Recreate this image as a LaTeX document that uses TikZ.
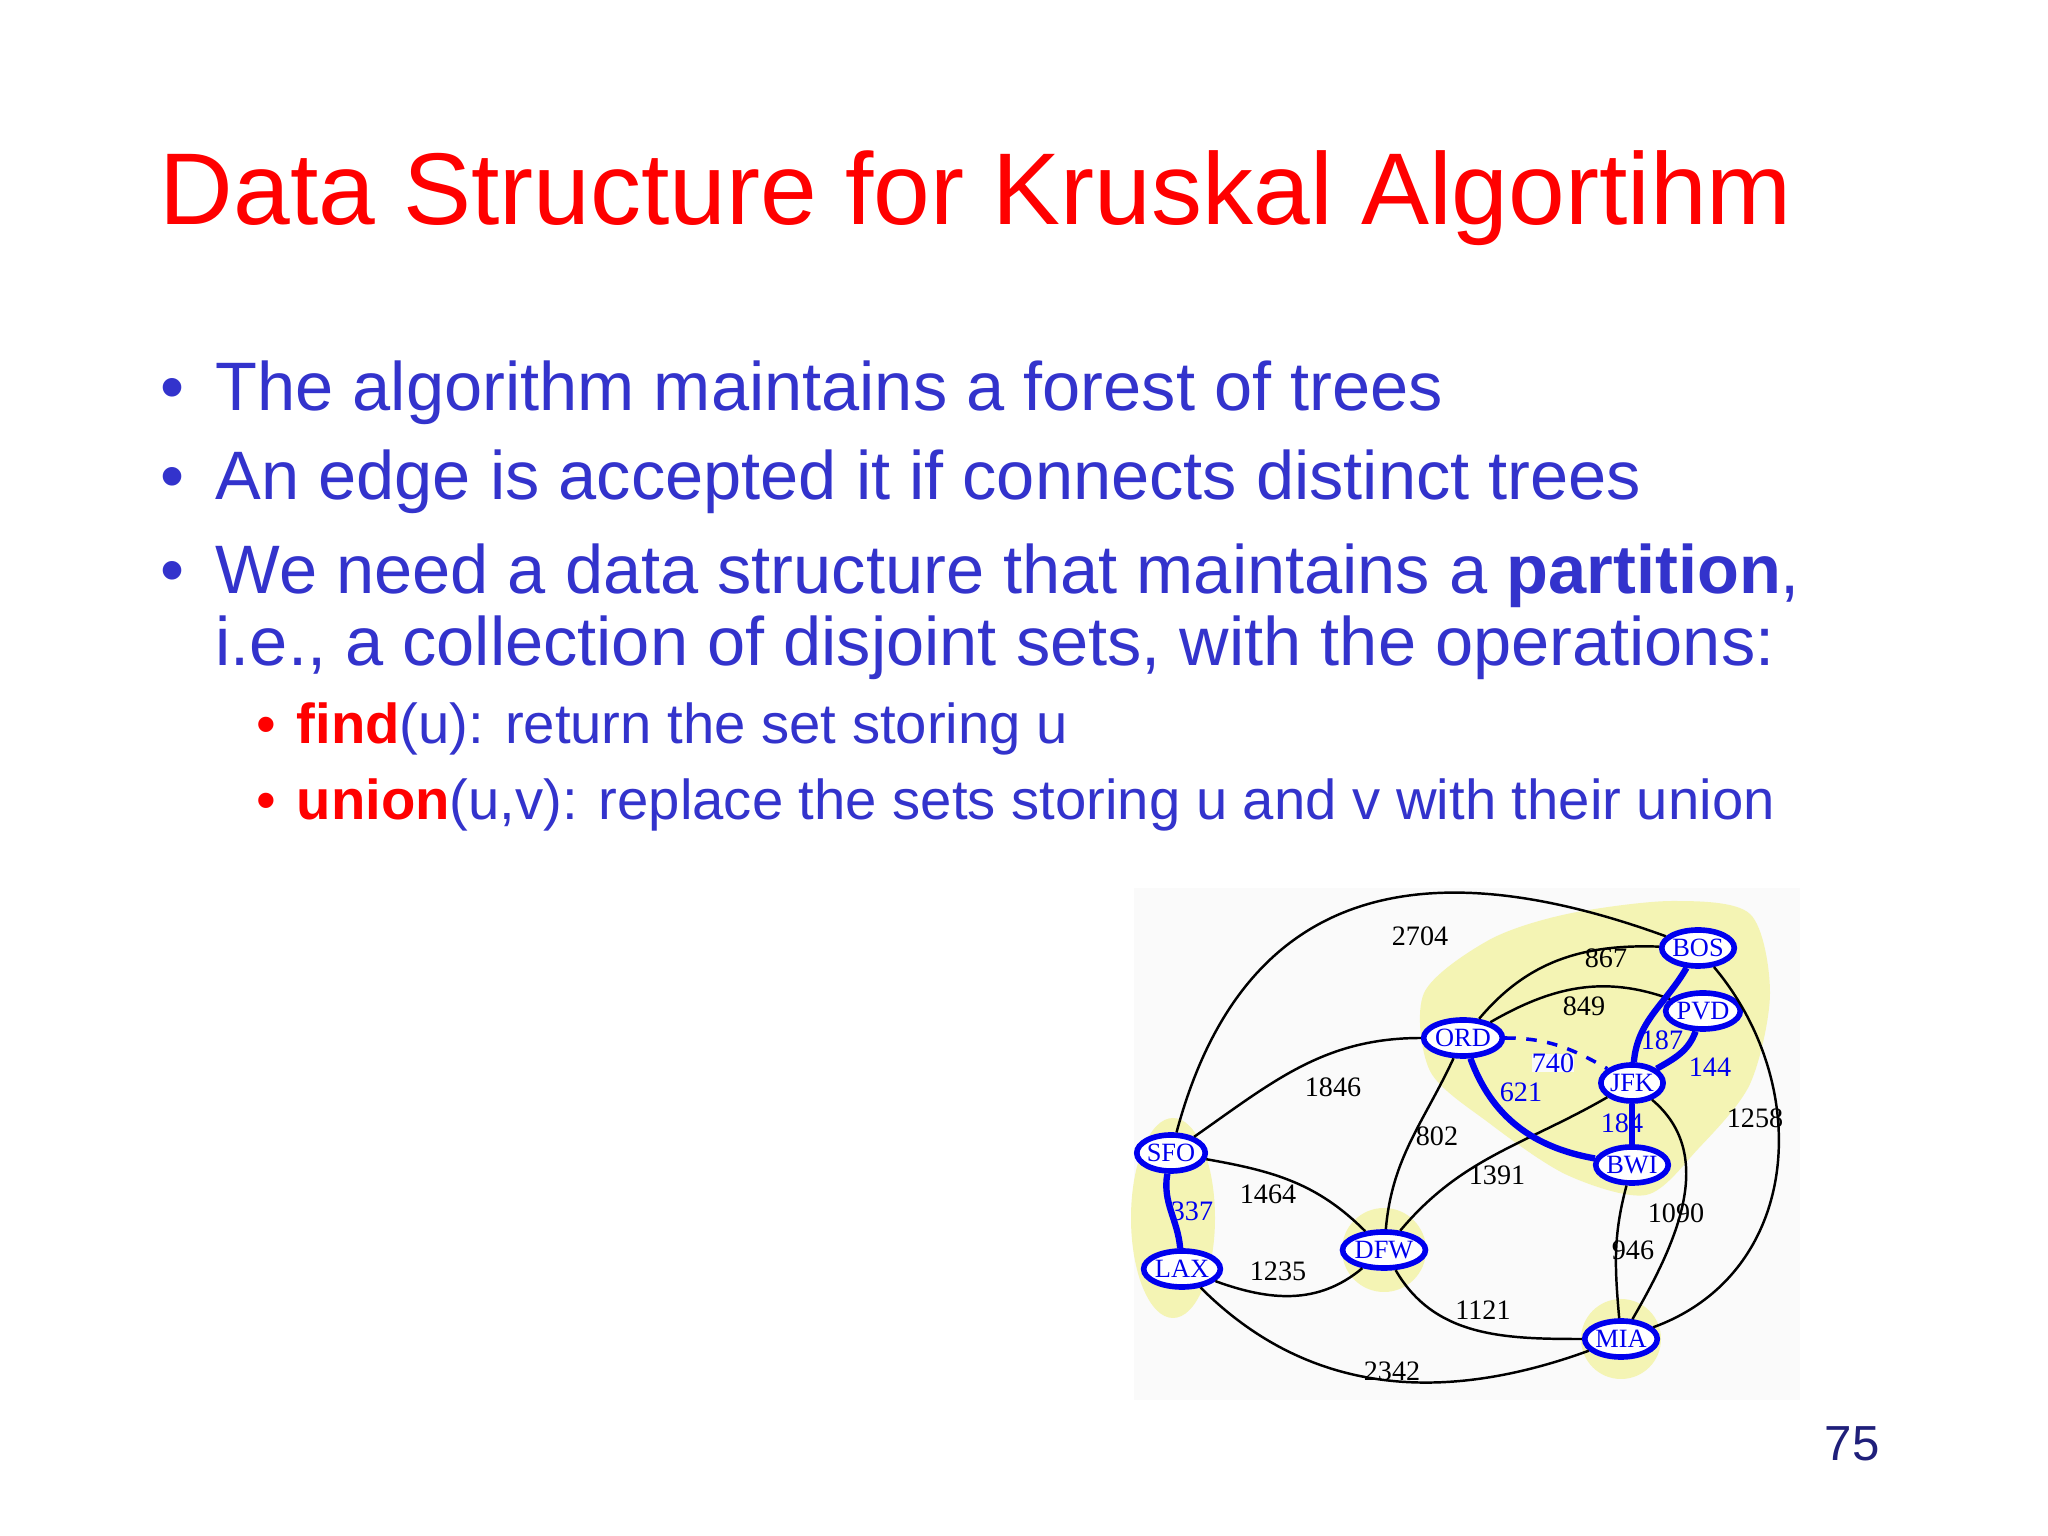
\documentclass[tikz,border=0pt]{standalone}
\usepackage{fontspec}
\setmainfont{Liberation Sans}
\newfontfamily\gser{Liberation Serif}
\usetikzlibrary{shapes.geometric}
\definecolor{tblue}{HTML}{3333CC}
\definecolor{gblue}{HTML}{0000EE}
\definecolor{hl}{HTML}{F4F4B4}
\tikzset{
 city/.style={ellipse,draw=gblue,line width=1.6pt,fill=white,inner sep=0pt,minimum width=0.6cm,minimum height=0.36cm,text=gblue,font=\gser\fontsize{7.5}{9}\selectfont},
 ed/.style={black,line width=0.7pt},
 be/.style={gblue,line width=1.8pt},
 wl/.style={font=\gser\fontsize{8}{9}\selectfont,inner sep=0pt},
 bl/.style={wl,text=gblue},
 txt/.style={anchor=base west,inner sep=0pt,text=tblue},
}
\begin{document}
\begin{tikzpicture}[x=0.01cm,y=0.01cm]
\useasboundingbox (0,0) rectangle (2048,1536);
\fill[white] (0,0) rectangle (2048,1536);
% title
\node[anchor=base west,inner sep=0pt,text=red,font=\fontsize{29}{34}\selectfont] (title) at (159,1311) {Data Structure for Kruskal Algortihm};
% bullets
\node[txt,font=\fontsize{19.5}{23}\selectfont] (b1d) at (160,1125) {•};
\node[txt,font=\fontsize{19.5}{23}\selectfont] (b1) at (215,1125) {The algorithm maintains a forest of trees};
\node[txt,font=\fontsize{19.5}{23}\selectfont] (b2d) at (160,1036) {•};
\node[txt,font=\fontsize{19.5}{23}\selectfont] (b2) at (215,1036) {An edge is accepted it if connects distinct trees};
\node[txt,font=\fontsize{19.5}{23}\selectfont] (b3d) at (160,942) {•};
\node[txt,font=\fontsize{19.5}{23}\selectfont] (b3) at (215,942) {We need a data structure that maintains a \textbf{partition},};
\node[txt,font=\fontsize{19.5}{23}\selectfont] (b3b) at (215,870) {i.e., a collection of disjoint sets, with the operations:};
\node[txt,text=red,font=\fontsize{16}{19}\selectfont] (s1d) at (256,792) {•};
\node[txt,font=\fontsize{16}{19}\selectfont] (s1) at (296,792) {\textcolor{red}{\textbf{find}}(u): return the set storing u};
\node[txt,text=red,font=\fontsize{16}{19}\selectfont] (s2d) at (256,716) {•};
\node[txt,font=\fontsize{16}{19}\selectfont] (s2) at (296,716) {\textcolor{red}{\textbf{union}}(u,v): replace the sets storing u and v with their union};
\node[anchor=base,inner sep=0pt,text=tblue!60!black,font=\fontsize{14}{16}\selectfont] (pg) at (1852,75) {75};
% graph background
\fill[black!2] (1134,136) rectangle (1800,648);
% highlights
\fill[hl] plot[smooth cycle] coordinates {(1424,543) (1489,596) (1567,622) (1672,635) (1750,622) (1770,543) (1750,452) (1698,387) (1646,341) (1567,361) (1489,413) (1430,465)};
\fill[hl] (1173,318) ellipse (42 and 100);
\fill[hl] (1384,286) circle (42);
\fill[hl] (1621,197) circle (40);
% nodes
\node[city] (BOS) at (1698,588) {BOS};
\node[city] (PVD) at (1703,525) {PVD};
\node[city] (ORD) at (1463,498) {ORD};
\node[city] (JFK) at (1632,453) {JFK};
\node[city] (BWI) at (1632,371) {BWI};
\node[city] (SFO) at (1171,383) {SFO};
\node[city] (LAX) at (1182,267) {LAX};
\node[city] (DFW) at (1384,286) {DFW};
\node[city] (MIA) at (1621,197) {MIA};
% edges
\draw[ed] (SFO) to[out=75,in=160,looseness=1.25] (BOS);
\draw[ed] (ORD) to[out=50,in=178] (BOS);
\draw[ed] (ORD) to[out=30,in=160] (PVD);
\draw[ed] (SFO) to[out=35,in=180] (ORD);
\draw[ed] (ORD) to[out=-115,in=85] (DFW);
\draw[ed] (SFO) to[out=-10,in=135] (DFW);
\draw[ed] (LAX) to[out=-20,in=-140] (DFW);
\draw[ed] (LAX) to[out=-45,in=200] (MIA);
\draw[ed] (DFW) to[out=-60,in=180] (MIA);
\draw[ed] (DFW) to[out=50,in=210] (JFK);
\draw[ed] (BWI) to[out=-105,in=95] (MIA);
\draw[ed] (JFK) to[out=-40,in=60] (MIA);
\draw[ed] (BOS) to[out=-50,in=20,looseness=1.1] (MIA);
\draw[be] (SFO) to[out=-100,in=95] (LAX);
\draw[be] (ORD) to[out=-70,in=170] (BWI);
\draw[be] (BOS) to[out=-120,in=85] (JFK);
\draw[be] (PVD) to[out=-110,in=30] (JFK);
\draw[be] (JFK) -- (BWI);
\draw[gblue,line width=1pt,dashed] (ORD) to[out=0,in=150] (JFK);
% weights
\node[wl] (w2704) at (1420,600) {2704};
\node[wl] (w867) at (1606,578) {867};
\node[wl] (w849) at (1584,530) {849};
\node[bl] (w187) at (1662,496) {187};
\node[bl,fill=black!2] (w740) at (1553,473) {740};
\node[bl] (w144) at (1710,469) {144};
\node[bl] (w621) at (1521,444) {621};
\node[wl] (w1846) at (1333,449) {1846};
\node[wl] (w1258) at (1755,418) {1258};
\node[bl] (w184) at (1622,413) {184};
\node[wl] (w802) at (1437,400) {802};
\node[wl] (w1391) at (1497,361) {1391};
\node[wl] (w1464) at (1268,342) {1464};
\node[bl] (w337) at (1192,325) {337};
\node[wl] (w1090) at (1676,323) {1090};
\node[wl] (w946) at (1633,286) {946};
\node[wl] (w1235) at (1278,265) {1235};
\node[wl] (w1121) at (1483,226) {1121};
\node[wl] (w2342) at (1392,165) {2342};
\end{tikzpicture}
\end{document}
